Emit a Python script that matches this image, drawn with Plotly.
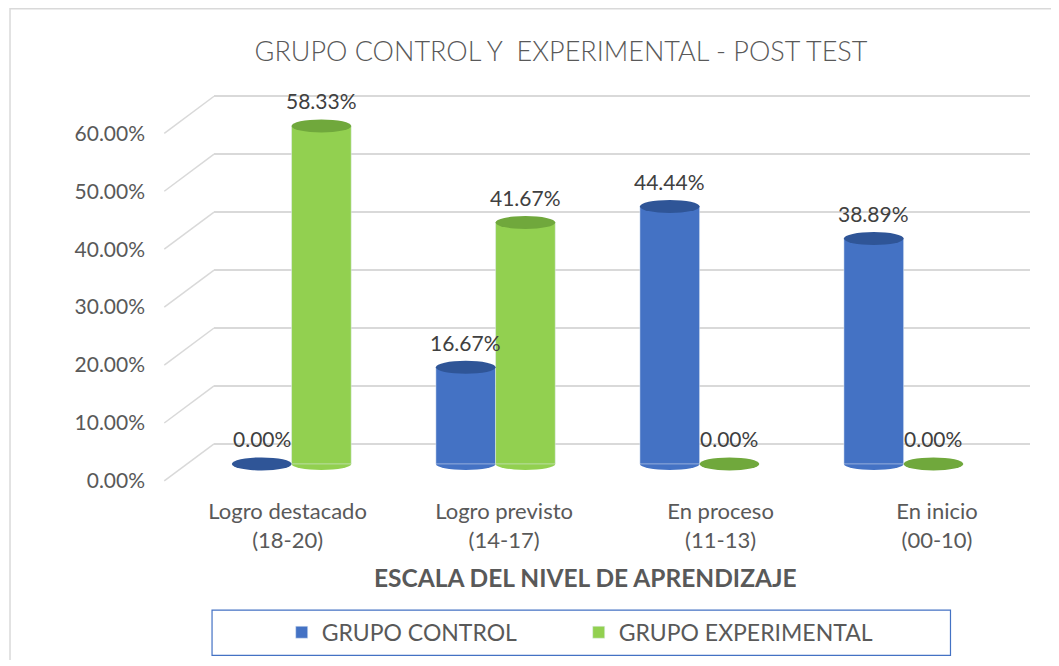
import plotly.graph_objects as go

categories = ["Logro destacado<br>(18-20)", "Logro previsto<br>(14-17)",
              "En proceso<br>(11-13)", "En inicio<br>(00-10)"]
control = [0.0, 0.1667, 0.4444, 0.3889]
experimental = [0.5833, 0.4167, 0.0, 0.0]
series_names = ["GRUPO CONTROL", "GRUPO EXPERIMENTAL"]
tick_values = [0.0, 0.1, 0.2, 0.3, 0.4, 0.5, 0.6]

# page body has an 8px margin; size the figure so it fits inside the window
OFF = 8
W, H = 1059 - 2 * OFF, 652
VS, VC = 0.987, 1.26  # observed vertical screen mapping
BLUE = "#4472C4"
GREEN = "#92D050"
BLUE_CAP = "#2F5597"
GREEN_CAP = "#70A83C"
TXT = "#595959"
FONT = "Lato"
BARGAP = 0.415


def cy(y):
    return (y - VC) / VS


def px(x):
    return (x - OFF) / W


def py(y):
    return 1 - (cy(y) - OFF) / H


# plot-area in window pixels
PL, PR, PT, PB = 210, 1030, 90, 485
UNIT = 578.0 / VS  # css pixels per 100%


def yrange(zero_px):
    return [-(cy(PB) - cy(zero_px)) / UNIT, (cy(zero_px) - cy(PT)) / UNIT]


fig = go.Figure()
for vals, name, col in [(control, series_names[0], BLUE),
                        (experimental, series_names[1], GREEN)]:
    fig.add_trace(go.Bar(x=categories, y=vals, name=name, marker_color=col,
                         cliponaxis=False))
# helper traces for the back-wall grid axis and the front label axes
fig.add_trace(go.Scatter(x=categories, y=control, xaxis="x", yaxis="y2",
                         mode="markers", marker=dict(opacity=0),
                         hoverinfo="skip", showlegend=False))
fig.add_trace(go.Scatter(x=categories, y=control, xaxis="x2", yaxis="y3",
                         mode="markers", marker=dict(opacity=0),
                         hoverinfo="skip", showlegend=False))

dom_x = [px(PL), px(PR)]
dom_y = [py(PB), py(PT)]

fig.update_layout(
    width=W, height=H,
    margin=dict(l=0, r=0, t=0, b=0),
    paper_bgcolor="white", plot_bgcolor="rgba(0,0,0,0)",
    font=dict(family=FONT, color=TXT),
    barmode="group", bargap=BARGAP, bargroupgap=0,
    title=dict(text="GRUPO CONTROL Y  EXPERIMENTAL - POST TEST",
               x=px(561), y=py(52), xanchor="center", yanchor="middle",
               font=dict(size=27, color=TXT, family=FONT, weight=300)),
    xaxis=dict(domain=dom_x, type="category", range=[-0.38, 3.62],
               showticklabels=False, showgrid=False, zeroline=False,
               showline=False, anchor="y"),
    xaxis2=dict(overlaying="x", type="category", range=[-0.34, 3.43],
                side="bottom", anchor="y3", showgrid=False, zeroline=False,
                showline=False, ticks="", ticklabelstandoff=11,
                tickfont=dict(size=22, color=TXT, family=FONT)),
    yaxis=dict(domain=dom_y, range=yrange(464), showgrid=False,
               zeroline=False, showticklabels=False, showline=False),
    yaxis2=dict(overlaying="y", range=yrange(444), showgrid=True,
                gridcolor="#D9D9D9", gridwidth=1.5, tickvals=tick_values,
                showticklabels=False, zeroline=False, showline=False),
    yaxis3=dict(overlaying="y", range=yrange(481), showgrid=False,
                zeroline=False, showline=False, tickvals=tick_values,
                tickformat=".2%", ticks="", ticklabelstandoff=68,
                tickfont=dict(size=21, color=TXT, family=FONT)),
    showlegend=True,
    legend=dict(orientation="h", x=px(278), y=py(632), xanchor="left",
                yanchor="middle", entrywidth=252, bgcolor="rgba(0,0,0,0)",
                font=dict(size=23, color=TXT, family=FONT), traceorder="normal"),
)

# cylinder caps / rounded bottoms and data labels, from the data and bar geometry
half_w = (1 - BARGAP) / 4
for k, (vals, body, cap) in enumerate([(control, BLUE, BLUE_CAP),
                                       (experimental, GREEN, GREEN_CAP)]):
    sign = -1 if k == 0 else 1
    for i, v in enumerate(vals):
        c = i + sign * half_w
        if v > 0:
            fig.add_shape(type="circle", xref="x", yref="y", ysizemode="pixel",
                          yanchor=0, x0=c - half_w, x1=c + half_w, y0=-6, y1=6,
                          fillcolor=body, line=dict(width=0), layer="below")
        fig.add_shape(type="circle", xref="x", yref="y", ysizemode="pixel",
                      yanchor=v, x0=c - half_w, x1=c + half_w, y0=-6.5, y1=6.5,
                      fillcolor=cap, line=dict(width=0), layer="above")
        fig.add_annotation(x=c, y=v, xref="x", yref="y", text=f"{v:.2%}",
                           showarrow=False, yshift=25, xanchor="center",
                           yanchor="middle",
                           font=dict(size=21, color="#404040", family=FONT))

# axis title
fig.add_annotation(text="<b>ESCALA DEL NIVEL DE APRENDIZAJE</b>", x=px(583), y=py(577),
                   xref="paper", yref="paper", xanchor="center", yanchor="middle",
                   showarrow=False, font=dict(size=24.5, color=TXT, family=FONT))

# slanted floor-to-wall gridline segments (3D depth look)
shift = (cy(481) - cy(444)) / UNIT
for v in tick_values:
    fig.add_shape(type="line", xref="paper", yref="y2",
                  x0=px(160), x1=px(PL), y0=v - shift, y1=v,
                  line=dict(color="#D9D9D9", width=1.5))

# legend frame
fig.add_shape(type="rect", xref="paper", yref="paper",
              x0=px(208), x1=px(950), y0=py(655), y1=py(610),
              line=dict(color=BLUE, width=1.2))
# chart frame
fig.add_shape(type="rect", xref="paper", yref="paper",
              x0=px(5), x1=1.05, y0=-0.05, y1=py(10),
              line=dict(color="#D9D9D9", width=1.5))

fig.write_html("out.html")
